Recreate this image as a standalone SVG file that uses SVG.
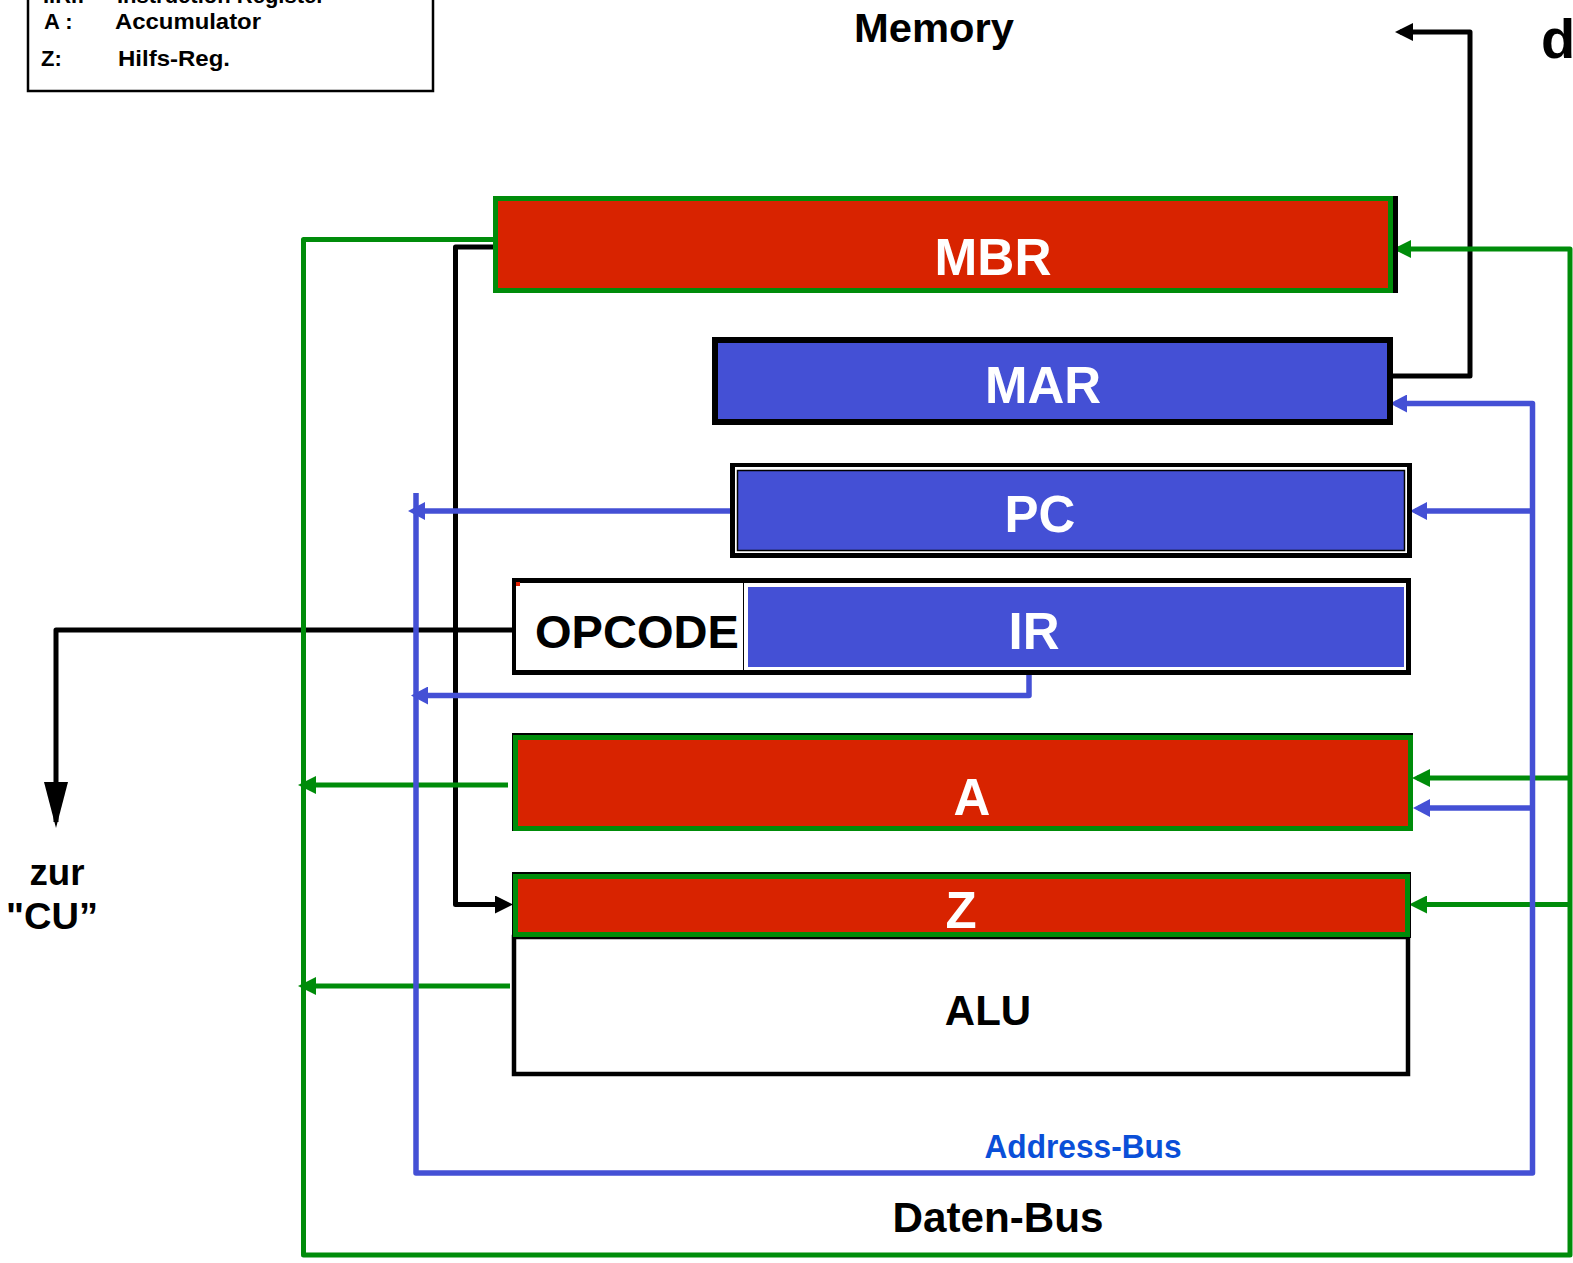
<svg xmlns="http://www.w3.org/2000/svg" width="1573" height="1263" viewBox="0 0 1573 1263">
<style>
text{font-family:"Liberation Sans",Arial,sans-serif;font-weight:bold}
.w{fill:#fff;text-anchor:middle;font-size:51px}
.k{fill:#000}
.g{fill:none;stroke:#008c0a;stroke-width:5}
.b{fill:none;stroke:#4450d5;stroke-width:5.5}
.bk{fill:none;stroke:#000;stroke-width:5;stroke-linejoin:round}
.red{fill:#d82300}
.blue{fill:#4450d5}
</style>
<defs>
<marker id="ag" viewBox="0 0 18 18" markerWidth="18" markerHeight="18" markerUnits="userSpaceOnUse" refX="13" refY="9" orient="auto"><path d="M0,0 L18,9 L0,18 z" fill="#008c0a"/></marker>
<marker id="ab" viewBox="0 0 17 18" markerWidth="17" markerHeight="18" markerUnits="userSpaceOnUse" refX="12" refY="9" orient="auto"><path d="M0,0 L17,9 L0,18 z" fill="#4450d5"/></marker>
<marker id="ak" viewBox="0 0 18 18" markerWidth="18" markerHeight="18" markerUnits="userSpaceOnUse" refX="13" refY="9" orient="auto"><path d="M0,0 L18,9 L0,18 z" fill="#000"/></marker>
<marker id="acu" viewBox="0 0 46 24" markerWidth="46" markerHeight="24" markerUnits="userSpaceOnUse" refX="40" refY="12" orient="auto"><path d="M0,0 L46,12 L0,24 z" fill="#000"/></marker>
</defs>

<g id="legend">
<rect x="28" y="-20" width="405" height="111" fill="#fff" stroke="#000" stroke-width="2.5"/>
<text x="43" y="3" font-size="22">I.R.:</text>
<text x="117" y="3" font-size="22">Instruction Register</text>
<text x="44" y="29" font-size="22">A :</text>
<text x="115" y="29" font-size="22" textLength="146" lengthAdjust="spacingAndGlyphs">Accumulator</text>
<text x="41" y="66" font-size="22">Z:</text>
<text x="118" y="66" font-size="22" textLength="112" lengthAdjust="spacingAndGlyphs">Hilfs-Reg.</text>
</g>

<g id="memory-label"><text x="934" y="42" font-size="41" text-anchor="middle" textLength="160" lengthAdjust="spacingAndGlyphs">Memory</text></g>
<g id="title-d"><text x="1541" y="58" font-size="56">d</text></g>

<g id="connectors">
<path class="bk" stroke-width="6" d="M1393 376 H1470 V32 H1400" marker-end="url(#ak)"/>
<path class="bk" d="M494 247 H455.5 V904.5 H508" marker-end="url(#ak)"/>
<path class="bk" stroke-width="4" d="M512 630 H56 V822" marker-end="url(#acu)"/>
<path class="g" stroke-linejoin="round" d="M494 239.5 H303.5 V1255 H1570 V249 H1398" marker-end="url(#ag)"/>
<path class="g" d="M508 785 H303" marker-end="url(#ag)"/>
<path class="g" d="M510 986 H303" marker-end="url(#ag)"/>
<path class="g" d="M1570 778 H1417" marker-end="url(#ag)"/>
<path class="g" d="M1570 904.5 H1414" marker-end="url(#ag)"/>
<path class="b" stroke-linejoin="round" d="M416 493 V1173 H1532.5 V403.5 H1395" marker-end="url(#ab)"/>
<path class="b" d="M1532 511 H1415" marker-end="url(#ab)"/>
<path class="b" d="M1532 808 H1418" marker-end="url(#ab)"/>
<path class="b" d="M730 511 H413" marker-end="url(#ab)"/>
<path class="b" stroke-linejoin="round" d="M1029 670 V695.5 H416" marker-end="url(#ab)"/>
</g>

<g id="MBR">
<rect x="494" y="196" width="904" height="97" fill="#000"/>
<rect x="495.5" y="198.5" width="895" height="92" class="red" stroke="#008c0a" stroke-width="5"/>
<text class="w" x="993" y="275" textLength="117" lengthAdjust="spacingAndGlyphs">MBR</text>
</g>

<g id="MAR">
<rect x="715" y="340" width="675" height="82" class="blue" stroke="#000" stroke-width="6"/>
<text class="w" x="1043" y="403">MAR</text>
</g>

<g id="PC">
<rect x="730" y="463" width="682" height="95" fill="#000"/>
<rect x="735" y="467" width="672" height="86" fill="#fff"/>
<rect x="737.5" y="470.5" width="667" height="80" class="blue" stroke="#000" stroke-width="1.5"/>
<text class="w" x="1040" y="532">PC</text>
</g>

<g id="IR">
<rect x="512" y="578" width="899" height="97" fill="#000"/>
<rect x="744" y="583" width="662" height="87" fill="#fff"/>
<rect x="748" y="587" width="656" height="80" class="blue"/>
<rect x="516" y="583" width="227" height="87" fill="#fff"/>
<rect x="516" y="582" width="4" height="4" fill="#e02000"/>
<text x="535" y="648" font-size="47" class="k" textLength="204" lengthAdjust="spacingAndGlyphs">OPCODE</text>
<text class="w" x="1034" y="649">IR</text>
</g>

<g id="A">
<rect x="512" y="733" width="901" height="98" fill="#000"/>
<rect x="515.5" y="737.5" width="895" height="91" class="red" stroke="#008c0a" stroke-width="5"/>
<text class="w" x="972" y="815">A</text>
</g>

<g id="ALU">
<rect x="514" y="937" width="894" height="137" fill="#fff" stroke="#000" stroke-width="4.5"/>
<text x="988" y="1025" font-size="42" text-anchor="middle" class="k">ALU</text>
</g>

<g id="Z">
<rect x="512" y="872" width="899" height="66" fill="#000"/>
<rect x="515.5" y="876.5" width="892" height="58" class="red" stroke="#008c0a" stroke-width="5"/>
<text class="w" x="961" y="928" font-size="44">Z</text>
</g>

<g id="labels">
<text x="57" y="885" font-size="36" text-anchor="middle" textLength="55" lengthAdjust="spacingAndGlyphs">zur</text>
<text x="52" y="929" font-size="36" text-anchor="middle" textLength="92" lengthAdjust="spacingAndGlyphs">"CU”</text>
<text x="1083" y="1158" font-size="33" fill="#0a4fd8" text-anchor="middle" textLength="197" lengthAdjust="spacingAndGlyphs">Address-Bus</text>
<text x="998" y="1232" font-size="43" text-anchor="middle" textLength="211" lengthAdjust="spacingAndGlyphs">Daten-Bus</text>
</g>
</svg>
